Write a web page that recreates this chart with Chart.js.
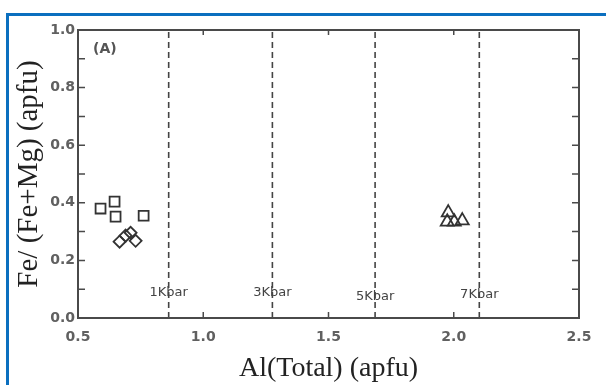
<!DOCTYPE html>
<html>
<head>
<meta charset="utf-8">
<script src="https://cdn.jsdelivr.net/npm/chart.js@4/dist/chart.umd.min.js"></script>
<style>
  html, body { margin: 0; padding: 0; background: #fff; overflow: hidden; }
  #wrap { position: relative; width: 606px; height: 385px; }
  #frame { position: absolute; left: 6px; top: 13px; right: -10px; bottom: -10px;
           border-top: 3px solid #0b6fbf; border-left: 3px solid #0b6fbf; pointer-events: none; }
  canvas { position: absolute; left: 0; top: 0; }
</style>
</head>
<body>
<div id="wrap">
  <canvas id="chart" width="606" height="385"></canvas>
  <div id="frame"></div>
</div>
<script>
// Fe/(Fe+Mg) vs Al(Total) amphibole plot, panel (A)
const squareX = [0.59, 0.646, 0.65, 0.762];
const squareY = [0.38, 0.404, 0.352, 0.355];
const diamondX = [0.666, 0.69, 0.71, 0.73];
const diamondY = [0.265, 0.286, 0.296, 0.268];
const triangleX = [1.978, 1.974, 2.002, 2.034];
const triangleY = [0.366, 0.334, 0.334, 0.338];

// pressure isobars (Al total at which each pressure applies)
const kbarX = [0.862, 1.276, 1.686, 2.102];
const kbarLabels = ['1Kbar', '3Kbar', '5Kbar', '7Kbar'];
const kbarLabelY = [0.087, 0.087, 0.073, 0.08];

const yInnerTicks = [0.1, 0.2, 0.3, 0.4, 0.5, 0.6, 0.7, 0.8, 0.9];
const xInnerTicks = [1.0, 1.5, 2.0];

const pts = (xs, ys) => xs.map((x, i) => ({ x, y: ys[i] }));

const ink = '#333';

const isobars = kbarX.map(x => ({
  type: 'line',
  data: [{ x, y: 0 }, { x, y: 1 }],
  borderColor: '#444',
  borderWidth: 1.6,
  borderDash: [6, 4],
  pointRadius: 0,
  showLine: true,
  order: 5
}));

const frameAndTicks = {
  id: 'frameAndTicks',
  afterDatasetsDraw(chart) {
    const { ctx, chartArea: a, scales: { x, y } } = chart;
    ctx.save();
    ctx.strokeStyle = '#4a4a4a';
    ctx.lineWidth = 2;
    ctx.strokeRect(a.left, a.top, a.right - a.left, a.bottom - a.top);

    ctx.lineWidth = 1.5;
    ctx.beginPath();
    yInnerTicks.forEach(v => {
      const py = y.getPixelForValue(v);
      ctx.moveTo(a.left, py); ctx.lineTo(a.left + 7, py);
      ctx.moveTo(a.right, py); ctx.lineTo(a.right - 7, py);
    });
    xInnerTicks.forEach(v => {
      const px = x.getPixelForValue(v);
      ctx.moveTo(px, a.top); ctx.lineTo(px, a.top + 5);
      ctx.moveTo(px, a.bottom); ctx.lineTo(px, a.bottom - 6);
    });
    ctx.stroke();

    ctx.fillStyle = '#444';
    ctx.font = '13px "DejaVu Sans"';
    ctx.textAlign = 'center';
    ctx.textBaseline = 'middle';
    kbarLabels.forEach((t, i) => {
      ctx.fillText(t, x.getPixelForValue(kbarX[i]), y.getPixelForValue(kbarLabelY[i]));
    });

    ctx.fillStyle = '#555';
    ctx.font = 'bold 14px "DejaVu Sans"';
    ctx.textAlign = 'left';
    ctx.fillText('(A)', a.left + 15, a.top + 19);
    ctx.restore();
  }
};

const tickFont = { family: 'DejaVu Sans', size: 14, weight: 'bold' };

new Chart(document.getElementById('chart'), {
  type: 'scatter',
  data: {
    datasets: [
      ...isobars,
      { data: pts(squareX, squareY), pointStyle: 'rect', pointRadius: 7, borderColor: ink, backgroundColor: 'transparent', borderWidth: 1.8, order: 1 },
      { data: pts(diamondX, diamondY), pointStyle: 'rectRot', pointRadius: 6, borderColor: ink, backgroundColor: 'transparent', borderWidth: 1.8, order: 1 },
      { data: pts(triangleX, triangleY), pointStyle: 'triangle', pointRadius: 7.5, borderColor: ink, backgroundColor: 'transparent', borderWidth: 1.8, order: 1 }
    ]
  },
  options: {
    responsive: false,
    animation: false,
    events: [],
    layout: { padding: { left: 0, right: 27, top: 30, bottom: 0 } },
    plugins: { legend: { display: false }, tooltip: { enabled: false } },
    scales: {
      x: {
        type: 'linear', min: 0.5, max: 2.5,
        afterFit: s => { s.height = 67; },
        grid: { display: false, drawTicks: false },
        border: { display: false },
        ticks: { stepSize: 0.5, padding: 11, color: '#606060', font: tickFont, callback: v => v.toFixed(1) },
        title: { display: true, text: 'Al(Total) (apfu)', color: '#222', padding: { top: 0, bottom: 0 },
                 font: { family: 'Liberation Serif', size: 28 } }
      },
      y: {
        type: 'linear', min: 0, max: 1,
        afterFit: s => { s.width = 78; },
        grid: { display: false, drawTicks: false },
        border: { display: false },
        ticks: { stepSize: 0.2, padding: 3, color: '#606060', font: tickFont, callback: v => v.toFixed(1) },
        title: { display: true, text: 'Fe/ (Fe+Mg) (apfu)', color: '#222', padding: { top: 12, bottom: 0 },
                 font: { family: 'Liberation Serif', size: 29 } }
      }
    }
  },
  plugins: [frameAndTicks]
});
</script>
</body>
</html>
